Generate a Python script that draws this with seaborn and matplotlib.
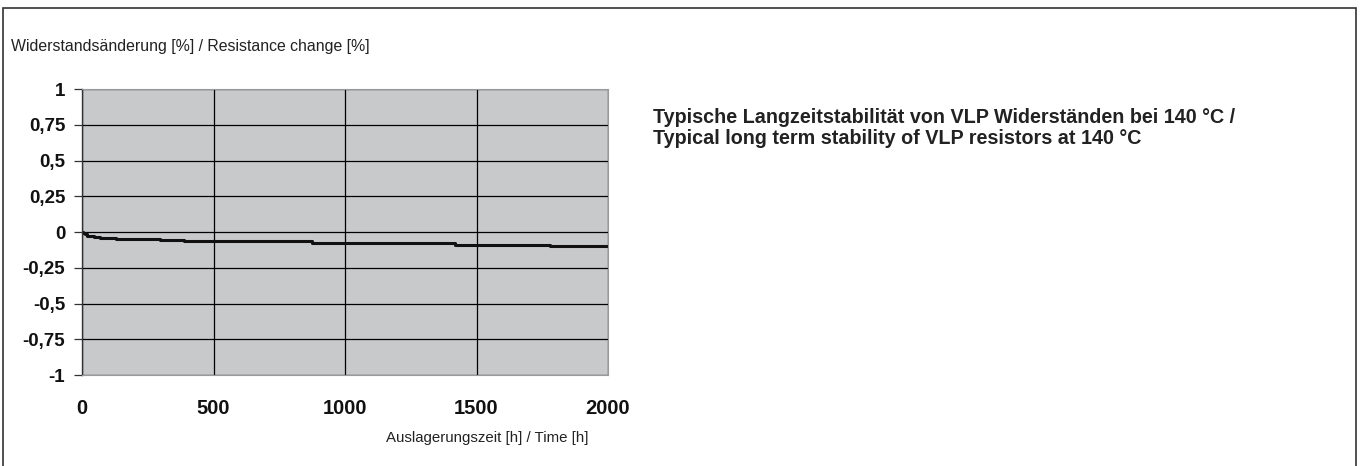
import matplotlib
matplotlib.use("Agg")
import matplotlib.pyplot as plt
from matplotlib.patches import Rectangle
import seaborn as sns
import pandas as pd

# Langzeitstabilität bei 140 °C
zeit_h = [0, 5, 10, 20, 30, 45, 70, 130, 295, 388, 628, 876, 1147, 1419, 1780, 2000]
aenderung_pct = [0.0, -0.01, -0.017, -0.025, -0.03, -0.035, -0.04, -0.05, -0.055, -0.06,
                 -0.065, -0.075, -0.08, -0.09, -0.10, -0.10]

y_ticks = [1, 0.75, 0.5, 0.25, 0, -0.25, -0.5, -0.75, -1]
y_labels = ["1", "0,75", "0,5", "0,25", "0", "-0,25", "-0,5", "-0,75", "-1"]
x_ticks = [0, 500, 1000, 1500, 2000]
x_labels = ["0", "500", "1000", "1500", "2000"]

sns.set_theme(style="white")
plt.rcParams["font.family"] = ["Liberation Sans", "DejaVu Sans"]

W, H = 1362, 466
fig = plt.figure(figsize=(W / 100, H / 100), dpi=100)
fig.patch.set_facecolor("white")

# outer frame (bottom edge is cut off in the original)
fig.add_artist(Rectangle((3 / W, -0.05), (1356 - 3) / W, 1.05 - 8 / H,
                         transform=fig.transFigure, fill=False,
                         edgecolor="#333333", linewidth=1.2))

left, right, top, bottom = 82, 608, 89, 375
ax = fig.add_axes([left / W, 1 - bottom / H, (right - left) / W, (bottom - top) / H])
ax.set_facecolor("#C8C9CB")

df = pd.DataFrame({"t": zeit_h, "dr": aenderung_pct})
sns.lineplot(data=df, x="t", y="dr", ax=ax, color="#111111", linewidth=2.2,
             drawstyle="steps-post")

ax.set_xlim(0, 2000)
ax.set_ylim(-1, 1)
ax.set_xticks(x_ticks)
ax.set_yticks(y_ticks)
ax.set_xticklabels(x_labels, fontweight="bold", fontsize=14.5, color="#111111")
ax.set_yticklabels(y_labels, fontweight="bold", fontsize=13.5, color="#111111")
ax.grid(True, color="black", linewidth=0.9)
ax.set_axisbelow(True)
ax.set_xlabel("")
ax.set_ylabel("")
ax.tick_params(axis="y", direction="out", length=6, width=0.9, color="#333333", pad=6, left=True)
ax.tick_params(axis="x", length=0, pad=17)
for side in ["top", "right", "bottom"]:
    ax.spines[side].set_color("#9a9a9a")
    ax.spines[side].set_linewidth(0.8)
ax.spines["left"].set_color("#333333")
ax.spines["left"].set_linewidth(1.0)

fig.text(11 / W, 1 - 47 / H, "Widerstandsänderung [%] / Resistance change [%]",
         fontsize=11.4, va="center", ha="left", color="#222222")
fig.text(588 / W, 1 - 438 / H, "Auslagerungszeit [h] / Time [h]",
         fontsize=10.8, va="center", ha="right", color="#222222")
fig.text(653 / W, 1 - 128 / H,
         "Typische Langzeitstabilität von VLP Widerständen bei 140 °C /\n"
         "Typical long term stability of VLP resistors at 140 °C",
         fontsize=14.2, fontweight="bold", va="center", ha="left", color="#222222",
         linespacing=1.15)

fig.savefig("out.png", dpi=100)
